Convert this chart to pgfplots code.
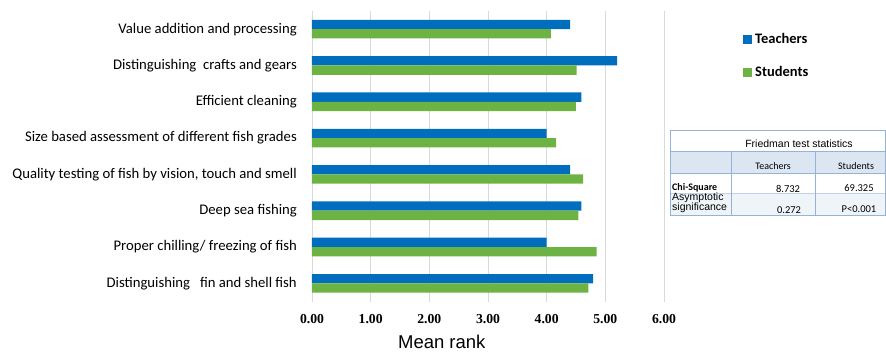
\documentclass[border=0pt]{standalone}
\usepackage{fontspec}
\usepackage{pgfplots}
\pgfplotsset{compat=1.18}
\setmainfont{Carlito}
\newfontfamily\ticksfont{Liberation Serif}
\newfontfamily\arialfont{Liberation Sans}
\definecolor{teach}{RGB}{0,110,188}
\definecolor{stud}{RGB}{108,179,68}
\definecolor{gridc}{RGB}{217,217,217}
\definecolor{tabline}{RGB}{149,179,215}
\definecolor{tabfill}{RGB}{220,230,242}
\begin{document}
\begin{tikzpicture}
\useasboundingbox (0pt,0pt) rectangle (886pt,-356pt);
\begin{axis}[
  at={(312pt,-301.5pt)}, anchor=south west,
  width=352pt, height=290.5pt, scale only axis,
  xbar, bar width=9.3pt,
  xmin=0, xmax=6, ymin=0.5, ymax=8.5,
  axis line style={draw=none},
  major tick length=0pt,
  xmajorgrids, major grid style={gridc, line width=0.8pt},
  xtick={0,1,2,3,4,5,6},
  xticklabels={0.00,1.00,2.00,3.00,4.00,5.00,6.00},
  xticklabel style={font=\fontsize{13.7}{16}\selectfont\ticksfont\bfseries, anchor=base, yshift=-22pt},
  ytick={1,2,3,4,5,6,7,8},
  yticklabels={
    {Distinguishing\ \ \ fin and shell fish},
    {Proper chilling/ freezing of fish},
    {Deep sea fishing},
    {Quality testing of fish by vision, touch and smell},
    {Size based assessment of different fish grades},
    {Efficient cleaning},
    {Distinguishing\ \ crafts and gears},
    {Value addition and processing}},
  yticklabel style={font=\fontsize{14.7}{17}\selectfont, anchor=east, inner sep=0pt, xshift=-15pt},
  sq legend/.style={legend image code/.code={\fill[##1] (0pt,-4.6pt) rectangle (9pt,4.6pt); \path (12pt,0pt);}},
  legend style={at={(1.2244,0.9238)}, anchor=north west, draw=none, fill=none,
    inner sep=0pt, row sep=21.7pt, font=\fontsize{14.5}{17}\selectfont\bfseries,
    nodes={inner sep=0pt}},
  legend cell align=left,
]
\addplot[fill=teach, draw=none, bar shift=4.65pt, sq legend] coordinates {
  (4.79,1) (4.00,2) (4.59,3) (4.40,4) (4.00,5) (4.59,6) (5.20,7) (4.40,8)};
\addlegendentry{Teachers}
\addplot[fill=stud, draw=none, bar shift=-4.65pt, sq legend] coordinates {
  (4.71,1) (4.85,2) (4.54,3) (4.62,4) (4.16,5) (4.50,6) (4.51,7) (4.07,8)};
\addlegendentry{Students}
\end{axis}
\node[font=\fontsize{18.5}{22}\selectfont\arialfont] at (441.8pt,-342pt) {Mean rank};
% Friedman test statistics table
\fill[tabfill] (670pt,-151pt) rectangle (885pt,-173pt);
\fill[tabfill!45] (670pt,-193pt) rectangle (885pt,-215pt);
\draw[tabline, line width=0.6pt] (670pt,-173pt) -- (885pt,-173pt);
\draw[tabline!60, line width=0.5pt] (670pt,-193pt) -- (885pt,-193pt);
\draw[tabline, line width=0.8pt] (670pt,-151pt) -- (885pt,-151pt);
\draw[tabline, line width=0.8pt] (731pt,-151pt) -- (731pt,-215pt);
\draw[tabline, line width=0.8pt] (815pt,-151pt) -- (815pt,-215pt);
\draw[tabline, line width=1pt] (670pt,-130pt) rectangle (885pt,-215pt);
\node[font=\fontsize{10.5}{12}\selectfont\arialfont] at (799pt,-144pt) {Friedman test statistics};
\node[font=\fontsize{10}{12}\selectfont] at (773pt,-166pt) {Teachers};
\node[font=\fontsize{10}{12}\selectfont] at (856pt,-166pt) {Students};
\node[font=\fontsize{10}{12}\selectfont\bfseries, anchor=west, inner sep=0pt] at (672pt,-188pt) {Chi-Square};
\node[font=\fontsize{10.5}{12}\selectfont] at (788pt,-189pt) {8.732};
\node[font=\fontsize{10.5}{12}\selectfont] at (859pt,-188pt) {69.325};
\node[font=\fontsize{10.5}{10}\selectfont\arialfont, anchor=west, inner sep=0pt, align=left] at (672pt,-203pt) {Asymptotic\\significance};
\node[font=\fontsize{10.5}{12}\selectfont] at (789pt,-210pt) {0.272};
\node[font=\fontsize{10.5}{12}\selectfont] at (859pt,-209pt) {P<0.001};
\end{tikzpicture}
\end{document}
